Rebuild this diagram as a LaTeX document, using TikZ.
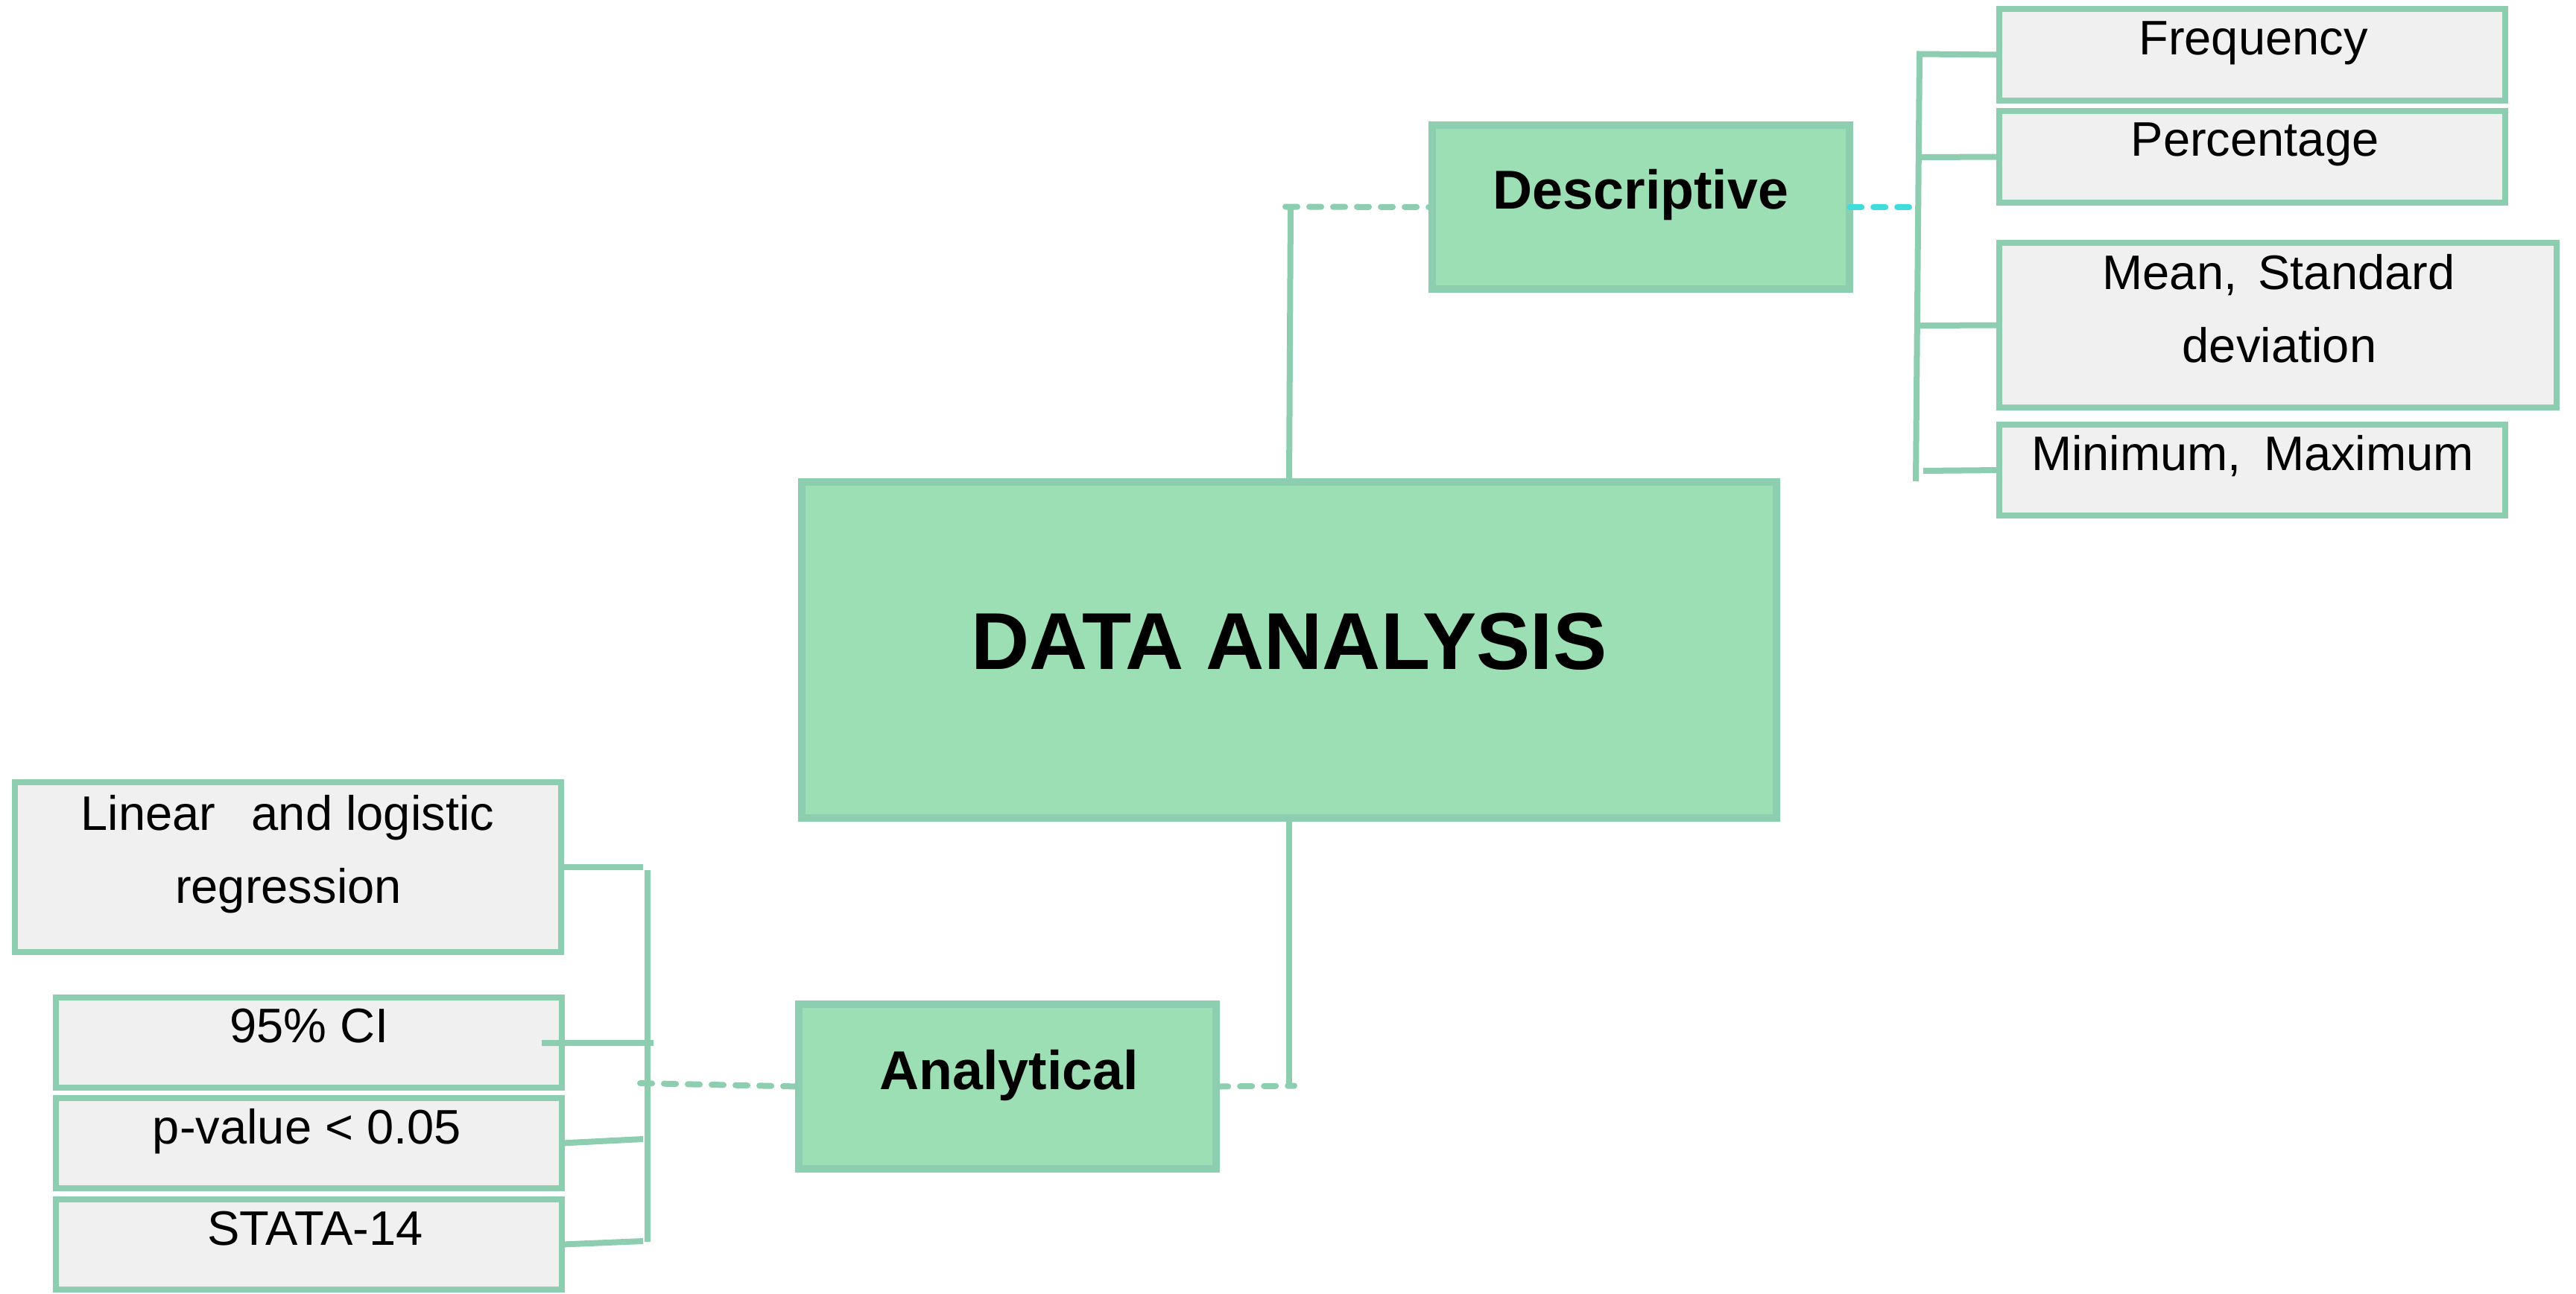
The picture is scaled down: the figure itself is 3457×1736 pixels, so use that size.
\documentclass[tikz,border=0pt]{standalone}
\usepackage{fontspec}
\setmainfont{Liberation Sans}
\definecolor{gborder}{HTML}{8DCDB0}
\definecolor{gfill}{HTML}{9DDFB4}
\definecolor{greyfill}{HTML}{F0F0F0}
\definecolor{cyanline}{HTML}{40DCDA}
\begin{document}
\begin{tikzpicture}[x=0.01cm,y=-0.01cm,
  greenbox/.style={rectangle, draw=gborder, fill=gfill, line width=0.1cm, inner sep=0pt, outer sep=0pt},
  greybox/.style={rectangle, draw=gborder, fill=greyfill, line width=0.08cm, inner sep=0pt, outer sep=0pt},
  txt/.style={anchor=base, inner sep=0pt, outer sep=0pt, font=\fontsize{18.5}{22}\selectfont},
  boldtxt/.style={anchor=base, inner sep=0pt, outer sep=0pt, font=\fontsize{20.9}{25}\selectfont\bfseries},
  titletxt/.style={anchor=base, inner sep=0pt, outer sep=0pt, font=\fontsize{30.8}{36}\selectfont\bfseries},
  conn/.style={draw=gborder, line width=0.08cm},
  gdash/.style={draw=gborder, line width=0.08cm, line cap=round, dash pattern=on 0.16cm off 0.16cm},
  cdash/.style={draw=cyanline, line width=0.08cm, line cap=round, dash pattern=on 0.16cm off 0.16cm}
]
\useasboundingbox (0,0) rectangle (3457,1736);

% boxes
\node[greenbox, minimum width=13.08cm, minimum height=4.51cm] (main) at (1730,872.5) {};
\node[greenbox, minimum width=5.60cm, minimum height=2.20cm] (desc) at (2202,278) {};
\node[greenbox, minimum width=5.60cm, minimum height=2.21cm] (ana) at (1352,1458.5) {};
\node[greybox, minimum width=6.79cm, minimum height=1.23cm] (freq) at (3022.5,73.5) {};
\node[greybox, minimum width=6.79cm, minimum height=1.23cm] (perc) at (3022.5,210.5) {};
\node[greybox, minimum width=7.48cm, minimum height=2.21cm] (mean) at (3057,436.5) {};
\node[greybox, minimum width=6.79cm, minimum height=1.22cm] (minmax) at (3022.5,631) {};
\node[greybox, minimum width=7.33cm, minimum height=2.28cm] (lin) at (386.5,1164) {};
\node[greybox, minimum width=6.79cm, minimum height=1.21cm] (ci) at (414.5,1399.5) {};
\node[greybox, minimum width=6.79cm, minimum height=1.21cm] (pv) at (414.5,1534.5) {};
\node[greybox, minimum width=6.79cm, minimum height=1.21cm] (st) at (414.5,1670.5) {};

% connectors: descriptive
\coordinate (dl) at (1725,277.5);
\coordinate (dv) at (1732,277.5);
\draw[gdash] (dl) -- (desc.west);
\draw[conn] (dv) -- (main.north);
\coordinate (ce) at (2562,278);
\draw[cdash] (desc.east) -- (ce);

% right bracket
\coordinate (rbt) at (2576,72.5);
\coordinate (rbb) at (2571,646);
\draw[conn, line join=miter] (freq.west) -- (rbt) -- (rbb);
\coordinate (rb2) at (2576,211);
\draw[conn] (rb2) -- (perc.west);
\coordinate (rb3) at (2575,437);
\draw[conn] (rb3) -- (mean.west);
\coordinate (rb4) at (2581,632);
\draw[conn] (rb4) -- (minmax.west);

% connectors: analytical
\coordinate (av) at (1730,1457.5);
\draw[conn] (main.south) -- (av);
\coordinate (ar) at (1737,1457.5);
\draw[gdash] (ana.east) -- (ar);
\coordinate (al) at (859,1454);
\draw[gdash] (al) -- (ana.west);

% left bracket
\coordinate (lb1) at (863,1164);
\draw[conn] (lin.east) -- (lb1);
\coordinate (lbt) at (869,1168);
\coordinate (lbb) at (869,1667);
\draw[conn] (lbt) -- (lbb);
\coordinate (ci2) at (877,1400);
\draw[conn] ([xshift=-0.27cm,yshift=-0.005cm]ci.east) -- (ci2);
\coordinate (lb3) at (863,1529);
\draw[conn] (pv.east) -- (lb3);
\coordinate (lb4) at (863,1666);
\draw[conn] (st.east) -- (lb4);

% texts
\node[titletxt] (tmain) at (1730,898) {DATA ANALYSIS};
\node[boldtxt] (tdesc) at (2202,280) {Descriptive};
\node[boldtxt] (tana) at (1354,1462) {Analytical};
\node[txt] (tfreq) at (3024,73) {Frequency};
\node[txt] (tperc) at (3026,209) {Percentage};
\node[txt] (tmean1) at (3058,388) {Mean,\hspace{0.10cm} Standard};
\node[txt] (tmean2) at (3059,486) {deviation};
\node[txt] (tmin) at (3023,631) {Minimum,\hspace{0.12cm} Maximum};
\node[txt] (tlin1) at (386,1114) {Linear\hspace{0.3cm} and logistic};
\node[txt] (tlin2) at (387,1212) {regression};
\node[txt] (tci) at (415,1399) {95\% CI};
\node[txt] (tpv) at (412,1535) {p-value {\textless} 0.05};
\node[txt] (tst) at (423,1671) {STATA-14};
\end{tikzpicture}
\end{document}
